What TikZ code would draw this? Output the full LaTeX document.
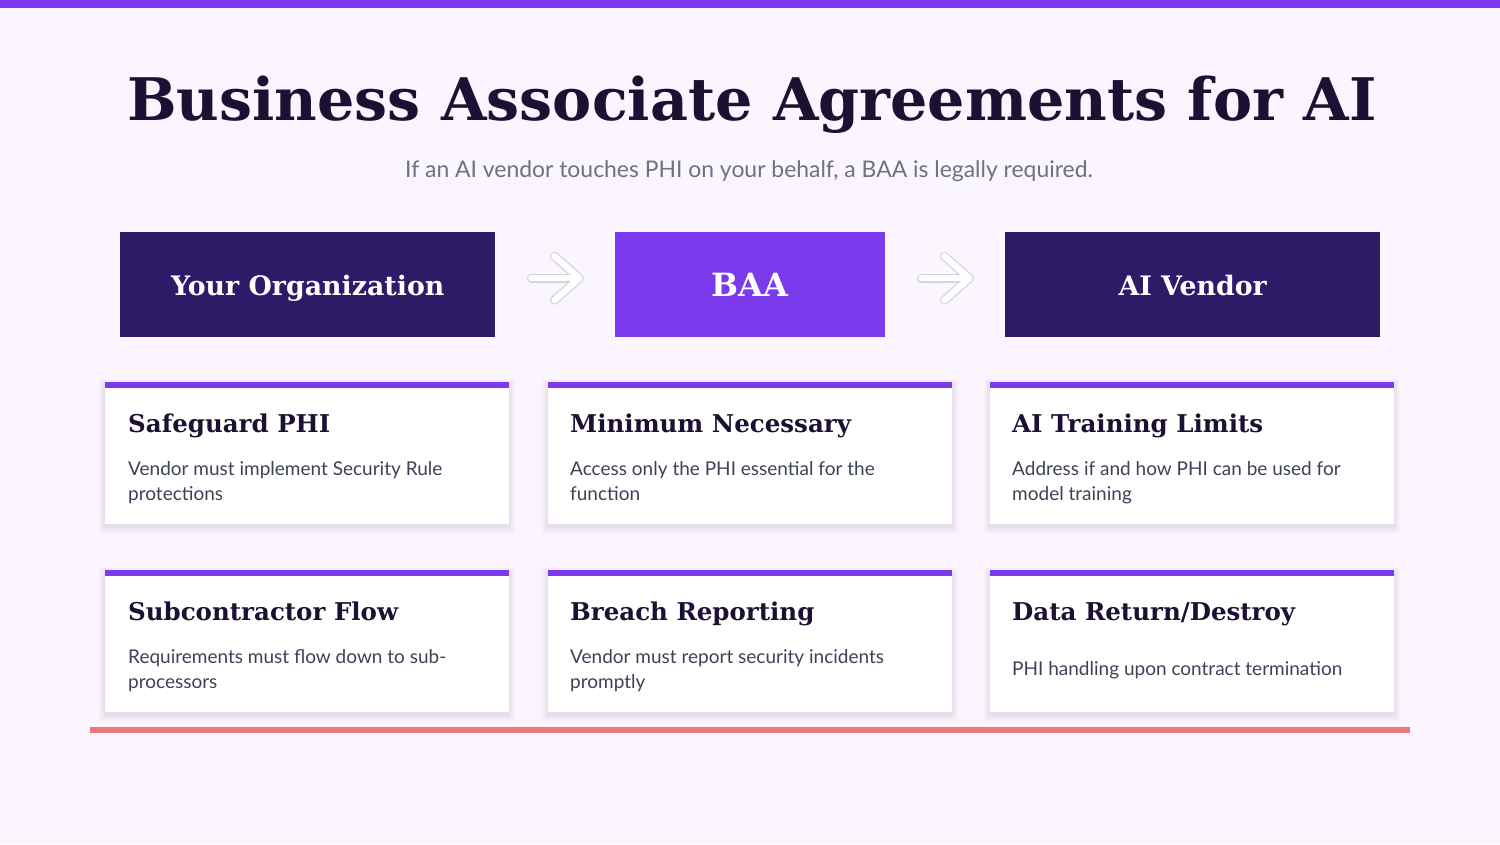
\documentclass[tikz,border=0pt]{standalone}
\usepackage{fontspec}
\setmainfont{Lato}
\newfontfamily\serifbold{DejaVu Serif}[BoldFont={DejaVu Serif Bold}]
\usetikzlibrary{calc}
\definecolor{bgc}{HTML}{FAF5FF}
\definecolor{violet}{HTML}{7C3AED}
\definecolor{darkv}{HTML}{2E1B68}
\definecolor{titlec}{HTML}{1C1033}
\definecolor{subc}{HTML}{6B7280}
\definecolor{bodyc}{HTML}{3D4357}
\definecolor{coral}{HTML}{EC777B}
\definecolor{arrowgray}{HTML}{D4D4DA}
\definecolor{shadowc}{HTML}{3B2A6B}
\tikzset{
  hdrbox/.style={fill=darkv, draw=none, minimum width=375pt, minimum height=105pt, anchor=north west, inner sep=0pt},
  hdrtext/.style={text=white, font=\serifbold\bfseries\fontsize{26.8}{30}\selectfont, anchor=base, inner sep=0pt},
  cardbox/.style={fill=white, draw=none, minimum width=404pt, minimum height=142pt, anchor=north west, inner sep=0pt},
  cardshadow/.style={fill=shadowc, fill opacity=0.015, draw=none},
  cardbar/.style={fill=violet, draw=none},
  cardtitle/.style={text=titlec, font=\serifbold\bfseries\fontsize{24.5}{30}\selectfont, anchor=base west, inner sep=0pt},
  cardbody/.style={text=bodyc, font=\fontsize{19}{25}\selectfont, anchor=base west, inner sep=0pt, align=left},
  arrowbg/.style={draw=arrowgray, line width=9pt, line cap=round, line join=round},
  arrowfg/.style={draw=white, line width=6.5pt, line cap=round, line join=round},
}
\begin{document}
\begin{tikzpicture}[x=1pt, y=-1pt]
\fill[bgc] (0,0) rectangle (1500,844);
\useasboundingbox (0,0) rectangle (1500,844);
\fill[violet] (0,0) rectangle (1500,8);

\node[text=titlec, font=\serifbold\bfseries\fontsize{58.7}{66}\selectfont, anchor=base, inner sep=0pt] (title) at (752,120) {Business Associate Agreements for AI};
\node[text=subc, font=\fontsize{22.9}{28}\selectfont, anchor=base, inner sep=0pt] (sub) at (749,177) {If an AI vendor touches PHI on your behalf, a BAA is legally required.};

% headers
\node[hdrbox] (org) at (120,232) {};
\node[hdrbox, fill=violet, minimum width=270pt] (baa) at (615,232) {};
\node[hdrbox] (ven) at (1005,232) {};
\node[hdrtext] (orgt) at ($(org.center)+(0,10.5)$) {Your Organization};
\node[hdrtext, font=\serifbold\bfseries\fontsize{32}{36}\selectfont] (baat) at ($(baa.center)+(0,12)$) {BAA};
\node[hdrtext] (vent) at ($(ven.center)+(0,10.5)$) {AI Vendor};

% arrows
\foreach \a/\b in {org/baa, baa/ven}{
  \foreach \s in {arrowbg, arrowfg}{
    \draw[\s] ($(\a.east)+(36,-6.5)$) -- ($(\a.east)+(83,-6.5)$);
    \draw[\s] ($(\a.east)+(59,-28.5)$) -- ($(\a.east)+(84,-6.5)$) -- ($(\a.east)+(59,15.5)$);
  }
}

% cards
\foreach \n/\x/\y in {c1/105/382, c2/548/382, c3/990/382, c4/105/570, c5/548/570, c6/990/570}{
  \foreach \e in {1,2,...,7}{
    \fill[cardshadow] ($(\x,\y)+(-\e+1,-\e+4)$) rectangle ($(\x,\y)+(404+\e-1,142+\e+2)$);
  }
  \node[cardbox] (\n) at (\x,\y) {};
  \fill[violet] (\n.north west) rectangle ($(\n.north east)+(0,6)$);
}

\node[cardtitle] (t1) at ($(c1.north west)+(23,50)$) {Safeguard PHI};
\node[cardbody] (b1) at ($(c1.north west)+(23,118)$) {Vendor must implement Security Rule\\protections};
\node[cardtitle] (t2) at ($(c2.north west)+(22,50)$) {Minimum Necessary};
\node[cardbody] (b2) at ($(c2.north west)+(22,118)$) {Access only the PHI essential for the\\function};
\node[cardtitle] (t3) at ($(c3.north west)+(22,50)$) {AI Training Limits};
\node[cardbody] (b3) at ($(c3.north west)+(22,118)$) {Address if and how PHI can be used for\\model training};
\node[cardtitle] (t4) at ($(c4.north west)+(23,50)$) {Subcontractor Flow};
\node[cardbody] (b4) at ($(c4.north west)+(23,118)$) {Requirements must flow down to sub-\\processors};
\node[cardtitle] (t5) at ($(c5.north west)+(22,50)$) {Breach Reporting};
\node[cardbody] (b5) at ($(c5.north west)+(22,118)$) {Vendor must report security incidents\\promptly};
\node[cardtitle] (t6) at ($(c6.north west)+(22,50)$) {Data Return/Destroy};
\node[cardbody] (b6) at ($(c6.north west)+(22,105)$) {PHI handling upon contract termination};

\fill[coral] (90,727) rectangle (1410,733);
\end{tikzpicture}
\end{document}
